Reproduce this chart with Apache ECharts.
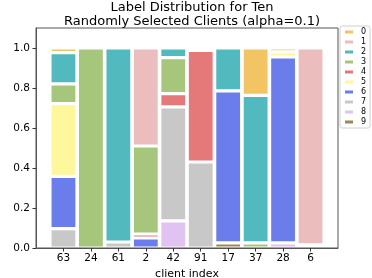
<!DOCTYPE html>
<html>
<head>
<meta charset="utf-8">
<script src="https://cdn.jsdelivr.net/npm/echarts@6/dist/echarts.min.js"></script>
<style>html,body{margin:0;padding:0;background:#fff}#c{width:372px;height:278px}</style>
</head>
<body>
<div id="c"></div>
<script>
var clients = ['63','24','61','2','42','91','17','37','28','6'];
var labelNames = ['0','1','2','3','4','5','6','7','8','9'];
var label0 = [0.023,0,0,0,0,0.012,0,0.237,0.019,0];
var label1 = [0,0,0,0.49,0,0,0,0,0,0.984];
var label2 = [0.156,0,0.97,0,0.048,0,0.214,0.737,0,0.016];
var label3 = [0.099,1.0,0,0.44,0.18,0,0,0.026,0,0];
var label4 = [0,0,0,0.02,0.066,0.558,0,0,0,0];
var label5 = [0.364,0,0,0,0,0,0,0,0.026,0];
var label6 = [0.261,0,0,0.05,0,0,0.76,0,0.929,0];
var label7 = [0.097,0,0.03,0,0.57,0.43,0,0,0,0];
var label8 = [0,0,0,0,0.136,0,0,0,0.026,0];
var label9 = [0,0,0,0,0,0,0.026,0,0,0];
var yTicks = [0,0.2,0.4,0.6,0.8,1.0];
var colors = ['#f2c464','#ebbdbd','#52b9be','#a6c67b','#e57979','#fff79c','#6a7deb','#c8c8c8','#e1c3f1','#9c8756'];

var allLabels = [label0,label1,label2,label3,label4,label5,label6,label7,label8,label9];
var cats = [''].concat(clients).concat(['']);
var series = [];
for (var k = 9; k >= 0; k--) {
  var d = [null].concat(allLabels[k].map(function(v){return v === 0 ? null : v;})).concat([null]);
  series.push({
    name: labelNames[k], type: 'bar', stack: 'all', data: d,
    barWidth: 27,
    itemStyle: {color: colors[k], borderColor: '#fff', borderWidth: 1.6},
    emphasis: {disabled: true}
  });
}
var font = 'DejaVu Sans';
var chart = echarts.init(document.getElementById('c'), null, {renderer: 'canvas'});
chart.setOption({
  animation: false,
  textStyle: {fontFamily: font},
  title: {
    text: 'Label Distribution for Ten\nRandomly Selected Clients (alpha=0.1)',
    left: 187, textAlign: 'center', top: -4,
    textStyle: {fontFamily: font, fontSize: 13, fontWeight: 'normal', color: '#000', lineHeight: 14}
  },
  legend: {
    orient: 'vertical', left: 340, top: 26,
    data: labelNames,
    icon: 'rect', itemWidth: 8, itemHeight: 3, itemGap: 2,
    padding: [2, 4, 2, 5],
    borderColor: '#d0d0d0', borderWidth: 1, borderRadius: 2,
    backgroundColor: '#fff',
    itemStyle: {borderWidth: 0},
    textStyle: {fontFamily: font, fontSize: 8, color: '#000', padding: [0,0,0,3]},
    selectedMode: false
  },
  grid: {left: 36, right: 34, top: 28, bottom: 30, show: true, borderColor: '#555', borderWidth: 1, z: 5,
    outerBoundsMode: 'none', containLabel: false},
  xAxis: {
    type: 'category', data: cats, boundaryGap: false, z: 5,
    name: 'client index', nameLocation: 'middle', nameGap: 20,
    nameTextStyle: {fontFamily: font, fontSize: 11, color: '#000'},
    axisLine: {lineStyle: {color: '#555', width: 1}},
    axisTick: {length: 3.5, lineStyle: {color: '#333'}, interval: function(i){ return i > 0 && i < cats.length - 1; }},
    axisLabel: {interval: 0, fontFamily: font, fontSize: 10.5, color: '#000', margin: 5},
    splitLine: {show: false}
  },
  yAxis: {
    type: 'value', min: 0, max: 1.1, z: 5,
    name: 'label fraction', nameLocation: 'middle', nameGap: 33,
    nameTextStyle: {fontFamily: font, fontSize: 11, color: '#000'},
    axisLine: {show: true, lineStyle: {color: '#555', width: 1}},
    axisTick: {show: true, length: 3.5, lineStyle: {color: '#333'}, customValues: yTicks},
    axisLabel: {fontFamily: font, fontSize: 10.5, color: '#000', margin: 6, customValues: yTicks,
      formatter: function(v){ return v.toFixed(1); }},
    splitLine: {show: false}
  },
  series: series
});
</script>
</body>
</html>
